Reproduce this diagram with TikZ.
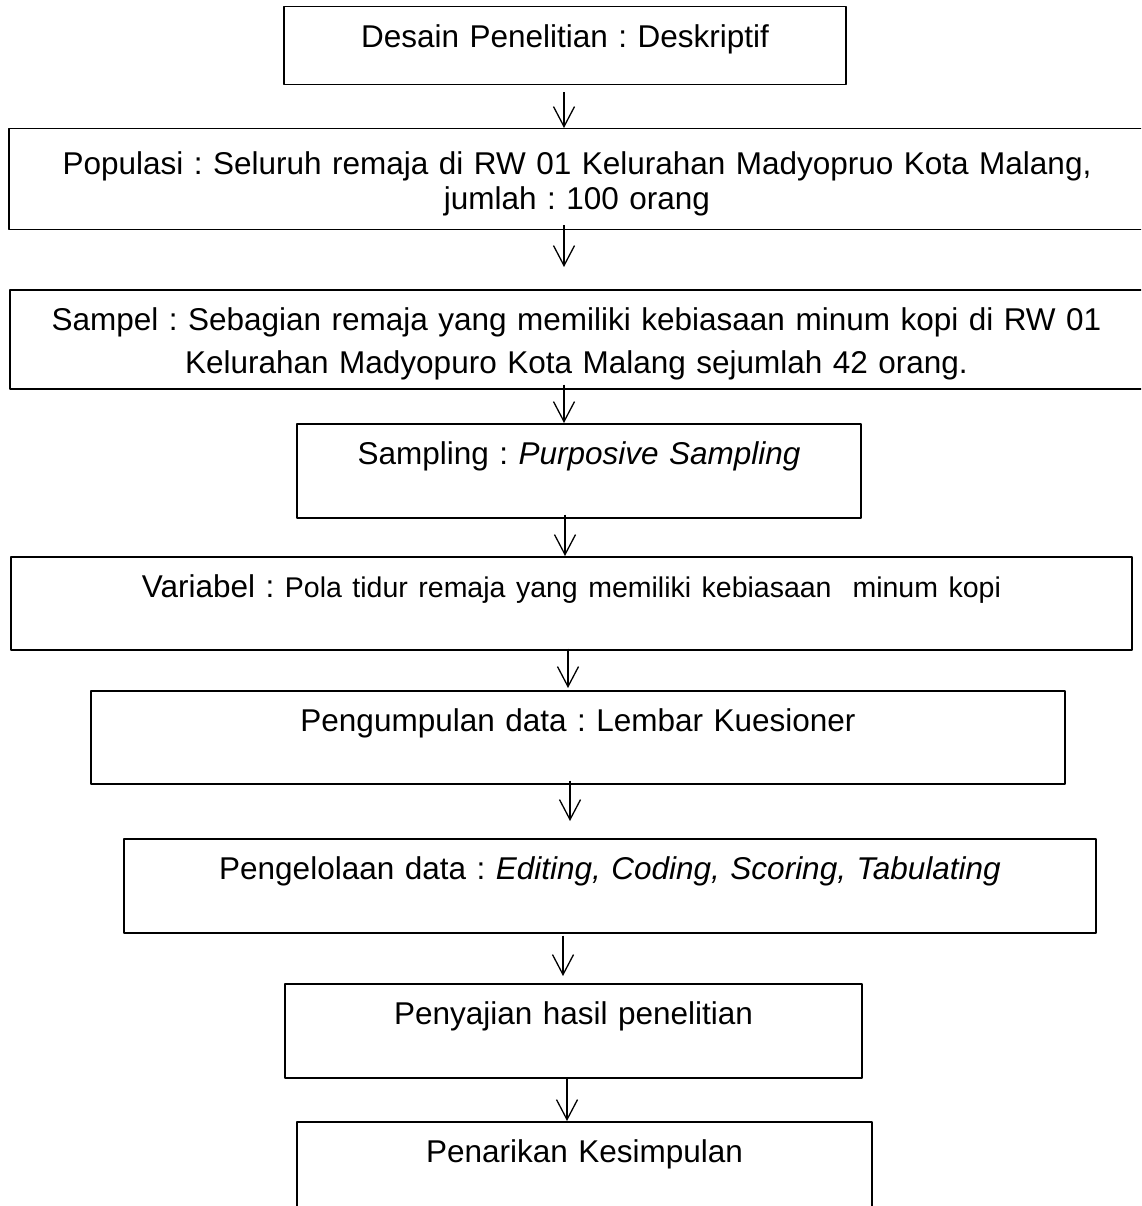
\documentclass[tikz,border=0pt]{standalone}
\usepackage{fontspec}
\setmainfont{Liberation Sans}
\usetikzlibrary{arrows.meta}
\frenchspacing
\begin{document}
\begin{tikzpicture}[x=1pt,y=-1pt,>={Straight Barb[length=20pt,width=21pt]},
    line join=round,
    font=\fontsize{31.5}{32}\selectfont,
    kotak/.style={draw, line width=1.5pt, anchor=north, inner xsep=0pt, inner ysep=0pt,
        align=center, text height=41pt},
    panah/.style={->, line width=1.3pt}]
    % ukuran gambar: 1141 x 1206
    \useasboundingbox (0,0) rectangle (1141,1206);
    \clip (0,0) rectangle (1141,1206);
    % kotak-kotak alur penelitian
    \node[kotak, text width=562pt, text depth=37pt] (desain) at (565,6)
        {Desain Penelitian : Deskriptif};
    \node[kotak, text width=1146pt, text height=46pt, text depth=55pt] (populasi) at (582,128)
        {\hspace*{-10pt}Populasi : Seluruh remaja di RW 01 Kelurahan Madyopruo Kota Malang,\\[3pt] \hspace*{-10pt}jumlah : 100 orang};
    \node[kotak, text width=1145pt, text depth=58pt] (sampel) at (582.5,289)
        {\hspace*{-12pt}Sampel : Sebagian remaja yang memiliki kebiasaan minum kopi di RW 01\\[11pt] \hspace*{-12pt}Kelurahan Madyopuro Kota Malang sejumlah 42 orang.};
    \node[kotak, text width=564pt, text depth=53pt] (sampling) at (579,423)
        {Sampling : \textit{Purposive Sampling}};
    \node[kotak, text width=1121pt, text depth=52pt] (variabel) at (571.5,556)
        {Variabel : {\fontsize{28.5}{32}\selectfont Pola tidur remaja yang memiliki kebiasaan\ \ minum kopi}};
    \node[kotak, text width=974pt, text depth=52pt] (pengumpulan) at (578,690)
        {Pengumpulan data : Lembar Kuesioner};
    \node[kotak, text width=972pt, text depth=53pt] (pengelolaan) at (610,838)
        {Pengelolaan data : \textit{Editing, Coding, Scoring, Tabulating}};
    \node[kotak, text width=577pt, text depth=53pt] (penyajian) at (573.5,983)
        {Penyajian hasil penelitian};
    \node[kotak, text width=575pt, text depth=69pt] (penarikan) at (584.5,1121)
        {Penarikan Kesimpulan};
    % panah antar kotak: dari/ke/x/awal/akhir
    \foreach \a/\b/\x/\s/\e in {desain/populasi/564/7/0,
        populasi/sampel/564/-5/22,
        sampel/sampling/564/-5/0,
        sampling/variabel/565/-4/0,
        variabel/pengumpulan/568/-2/2,
        pengumpulan/pengelolaan/570/-4/17,
        pengelolaan/penyajian/563/2/7,
        penyajian/penarikan/567/0/0}
    \draw[panah, shorten <=\s pt, shorten >=\e pt] (\x,0 |- \a.south) -- (\x,0 |- \b.north);
\end{tikzpicture}
\end{document}
